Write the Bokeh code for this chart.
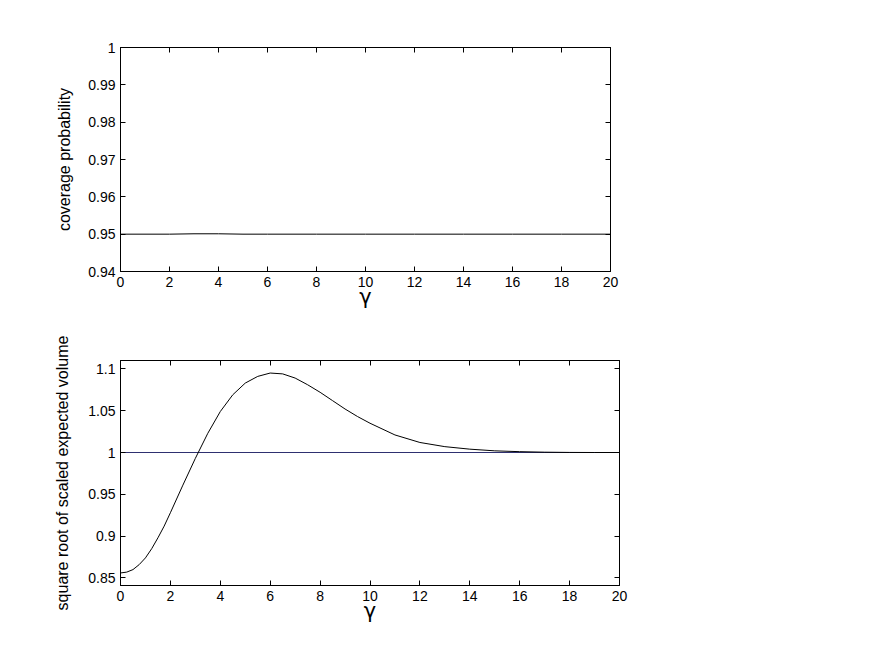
from bokeh.plotting import figure
from bokeh.layouts import column
from bokeh.models import LinearAxis, Range1d, FixedTicker, CustomLabelingPolicy
from bokeh.embed import file_html
from bokeh.resources import INLINE

# ---- data ----
gamma_cov = [0, 1, 2, 3, 4, 5, 6, 7, 8, 9, 10, 11, 12, 13, 14, 15, 16, 17, 18, 19, 20]
coverage = [0.9500, 0.9500, 0.9500, 0.9501, 0.9501, 0.9500, 0.9500, 0.9500, 0.9500, 0.9500,
            0.9500, 0.9500, 0.9500, 0.9500, 0.9500, 0.9500, 0.9500, 0.9500, 0.9500, 0.9500, 0.9500]

gamma_vol = [0, 0.25, 0.5, 0.75, 1, 1.25, 1.5, 1.75, 2, 2.5, 3, 3.5, 4, 4.5, 5, 5.5, 6, 6.5,
             7, 7.5, 8, 8.5, 9, 9.5, 10, 11, 12, 13, 14, 15, 16, 17, 18, 19, 20]
volume = [0.856, 0.857, 0.860, 0.866, 0.874, 0.885, 0.898, 0.912, 0.928, 0.961, 0.993, 1.023,
          1.049, 1.069, 1.083, 1.091, 1.095, 1.094, 1.089, 1.081, 1.072, 1.062, 1.052, 1.043,
          1.035, 1.021, 1.012, 1.007, 1.004, 1.002, 1.001, 1.0004, 1.0001, 1.0, 1.0]
reference_level = [1.0, 1.0]
reference_x = [0, 20]

x_ticks = [0, 2, 4, 6, 8, 10, 12, 14, 16, 18, 20]
x_labels = ["0", "2", "4", "6", "8", "10", "12", "14", "16", "18", "20"]
cov_ticks = [0.94, 0.95, 0.96, 0.97, 0.98, 0.99, 1.0]
cov_labels = ["0.94", "0.95", "0.96", "0.97", "0.98", "0.99", "1"]
vol_ticks = [0.85, 0.9, 0.95, 1.0, 1.05, 1.1]
vol_labels = ["0.85", "0.9", "0.95", "1", "1.05", "1.1"]

FONT = "Liberation Sans"
HIDE_ALL = "const all = [...indices]; for (const i of all) indices.unset(i); return indices"


def style(p, xt, xl, yt, yl, xlabel, ylabel, ystandoff):
    p.xgrid.visible = False
    p.ygrid.visible = False
    p.outline_line_color = "black"
    p.outline_line_width = 1
    bx = p.below[0]
    ly = p.left[0]
    bx.ticker = FixedTicker(ticks=xt)
    bx.major_label_overrides = dict(zip(xt, xl))
    ly.ticker = FixedTicker(ticks=yt)
    ly.major_label_overrides = dict(zip(yt, yl))
    for ax in (bx, ly):
        ax.major_tick_in = 5
        ax.major_tick_out = 0
        ax.minor_tick_line_color = None
        ax.axis_line_color = "black"
        ax.major_tick_line_color = "black"
        ax.major_label_text_font = FONT
        ax.major_label_text_font_size = "14px"
        ax.major_label_text_color = "black"
        ax.axis_label_text_font_style = "normal"
        ax.axis_label_text_color = "black"
    bx.axis_label = xlabel
    bx.axis_label_text_font = "DejaVu Sans"
    bx.axis_label_text_font_size = "21px"
    bx.axis_label_standoff = -5
    ly.axis_label = ylabel
    ly.axis_label_text_font = FONT
    ly.axis_label_text_font_size = "16px"
    ly.axis_label_standoff = ystandoff
    # box axes (ticks only, no labels)
    top = LinearAxis(ticker=FixedTicker(ticks=xt), major_tick_in=5, major_tick_out=0,
                     minor_tick_line_color=None, axis_line_color="black",
                     major_label_policy=CustomLabelingPolicy(code=HIDE_ALL))
    right = LinearAxis(ticker=FixedTicker(ticks=yt), major_tick_in=5, major_tick_out=0,
                       minor_tick_line_color=None, axis_line_color="black",
                       major_label_policy=CustomLabelingPolicy(code=HIDE_ALL))
    p.add_layout(top, "above")
    p.add_layout(right, "right")


p1 = figure(frame_width=490, frame_height=224,
            min_border_left=120, min_border_top=47, min_border_right=30, min_border_bottom=52,
            x_range=Range1d(0, 20), y_range=Range1d(0.94, 1.0),
            output_backend="svg", toolbar_location=None)
p1.line(gamma_cov, coverage, line_color="black", line_width=1)
style(p1, x_ticks, x_labels, cov_ticks, cov_labels, "γ", "coverage probability", 12)

p2 = figure(frame_width=499, frame_height=225,
            min_border_left=118, min_border_top=37, min_border_right=30, min_border_bottom=52,
            x_range=Range1d(0, 20), y_range=Range1d(0.841, 1.11),
            output_backend="svg", toolbar_location=None)
p2.line(reference_x, reference_level, line_color="#2e3070", line_width=1)
p2.line(gamma_vol, volume, line_color="black", line_width=1)
style(p2, x_ticks, x_labels, vol_ticks, vol_labels, "γ", "square root of scaled expected volume", 14)

layout = column(p1, p2)
open("out.html", "w").write(file_html(layout, INLINE))
